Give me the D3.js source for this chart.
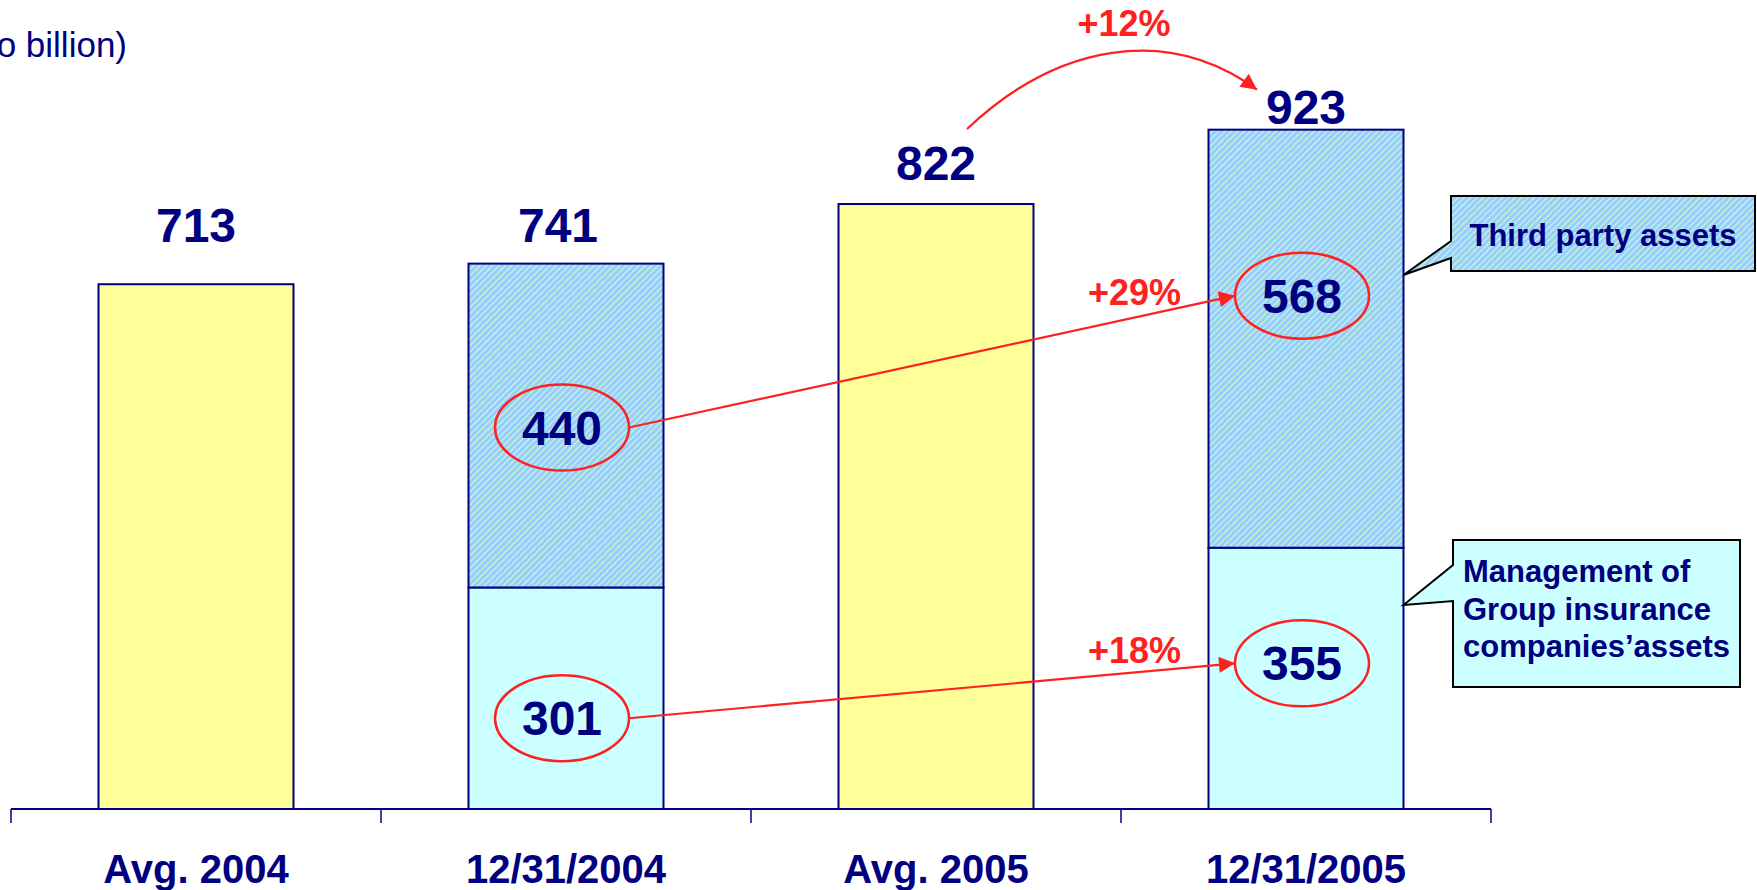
<!DOCTYPE html>
<html>
<head>
<meta charset="utf-8">
<script src="https://cdn.jsdelivr.net/npm/d3@7"></script>
<style>
  body { margin: 0; background: #fff; }
  svg { display: block; font-family: "Liberation Sans", Arial, sans-serif; }
</style>
</head>
<body>
<svg width="1757" height="890"></svg>
<script>
// chart data
const categories = ["Avg. 2004", "12/31/2004", "Avg. 2005", "12/31/2005"];
const totals = [713, 741, 822, 923];
const groupAssets = [null, 301, null, 355];   // Management of Group insurance companies' assets
const thirdParty = [null, 440, null, 568];    // Third party assets
const growthLabels = ["+12%", "+29%", "+18%"];
const unitLabel = "(Euro billion)";

// layout bits for the hand placed annotations
const totalLift = [42, 22, 24, 6];
const thirdShift = [0, 2, 0, -43];
const groupShift = [0, 20, 0, -15];

const navy = "#000080", red = "#FF2020";
const yellow = "#FFFF99", cyan = "#CCFFFF";

const svg = d3.select("svg");

// hatched fill for third party assets
const defs = svg.append("defs");
const pat = defs.append("pattern")
    .attr("id", "hatch")
    .attr("patternUnits", "userSpaceOnUse")
    .attr("width", 4.5).attr("height", 4.5)
    .attr("patternTransform", "rotate(45)");
pat.append("rect").attr("width", 4.5).attr("height", 4.5).attr("fill", "#99CCFF");
pat.append("line").attr("x1", 0).attr("y1", 0).attr("x2", 0).attr("y2", 4.5)
    .attr("stroke", "#CCFFCC").attr("stroke-width", 2.2);

let x = d3.scaleBand().domain(categories).range([11, 1491]).paddingInner(0.473).paddingOuter(0.2365);
let xOuter = d3.scaleBand().domain(categories).range([11, 1491]).padding(0);
let y = d3.scaleLinear().domain([0, 1000]).range([809, 73]);

const idx = d3.range(categories.length);
const isAvg = i => groupAssets[i] === null;

// yellow average bars
svg.selectAll(".avgBar")
    .data(idx.filter(isAvg))
    .enter().append("rect")
    .attr("class", "avgBar")
    .attr("x", i => x(categories[i]))
    .attr("width", x.bandwidth())
    .attr("y", i => y(totals[i]))
    .attr("height", i => y(0) - y(totals[i]))
    .attr("fill", yellow)
    .attr("stroke", navy)
    .attr("stroke-width", 2);

// stacked year end bars
const stacked = idx.filter(i => !isAvg(i));
svg.selectAll(".groupBar")
    .data(stacked)
    .enter().append("rect")
    .attr("class", "groupBar")
    .attr("x", i => x(categories[i]))
    .attr("width", x.bandwidth())
    .attr("y", i => y(groupAssets[i]))
    .attr("height", i => y(0) - y(groupAssets[i]))
    .attr("fill", cyan)
    .attr("stroke", navy)
    .attr("stroke-width", 2);

svg.selectAll(".thirdBar")
    .data(stacked)
    .enter().append("rect")
    .attr("class", "thirdBar")
    .attr("x", i => x(categories[i]))
    .attr("width", x.bandwidth())
    .attr("y", i => y(groupAssets[i] + thirdParty[i]))
    .attr("height", i => y(groupAssets[i]) - y(groupAssets[i] + thirdParty[i]))
    .attr("fill", "url(#hatch)")
    .attr("stroke", navy)
    .attr("stroke-width", 2);

// axis line with ticks between categories
svg.append("line")
    .attr("x1", xOuter.range()[0]).attr("x2", xOuter.range()[1])
    .attr("y1", y(0)).attr("y2", y(0))
    .attr("stroke", navy).attr("stroke-width", 2);
const tickXs = categories.map(c => xOuter(c)).concat([xOuter.range()[1]]);
svg.selectAll(".tick")
    .data(tickXs)
    .enter().append("line")
    .attr("x1", d => d).attr("x2", d => d)
    .attr("y1", y(0)).attr("y2", y(0) + 14)
    .attr("stroke", navy).attr("stroke-width", 1.5);

svg.selectAll(".catLabel")
    .data(categories)
    .enter().append("text")
    .attr("x", d => x(d) + x.bandwidth() / 2)
    .attr("y", y(0) + 74)
    .attr("text-anchor", "middle")
    .attr("font-size", 40).attr("font-weight", "bold")
    .attr("fill", navy)
    .text(d => d);

// totals above bars
svg.selectAll(".totLabel")
    .data(idx)
    .enter().append("text")
    .attr("x", i => x(categories[i]) + x.bandwidth() / 2 - (i === 1 ? 8 : 0))
    .attr("y", i => y(totals[i]) - totalLift[i])
    .attr("text-anchor", "middle")
    .attr("font-size", 48).attr("font-weight", "bold")
    .attr("fill", navy)
    .text(i => totals[i]);

// unit label, partly cut at the left edge as in the original slide
svg.append("text")
    .attr("x", 127).attr("y", 57)
    .attr("text-anchor", "end")
    .attr("font-size", 35)
    .attr("fill", navy)
    .text(unitLabel);

// circled segment values
const rx = 67, ry = 43;
let bubbles = [];
stacked.forEach(i => {
    const cx = x(categories[i]) + x.bandwidth() / 2 - 4;
    bubbles.push({i: i, kind: "third", cx: cx,
        cy: y(groupAssets[i] + thirdParty[i] / 2) + thirdShift[i], v: thirdParty[i]});
    bubbles.push({i: i, kind: "group", cx: cx,
        cy: y(groupAssets[i] / 2) + groupShift[i], v: groupAssets[i]});
});

const bub = svg.selectAll(".bubble").data(bubbles).enter().append("g");
bub.append("ellipse")
    .attr("cx", d => d.cx).attr("cy", d => d.cy)
    .attr("rx", rx).attr("ry", ry)
    .attr("fill", "none").attr("stroke", red).attr("stroke-width", 2.5);
bub.append("text")
    .attr("x", d => d.cx).attr("y", d => d.cy + 17)
    .attr("text-anchor", "middle")
    .attr("font-size", 48).attr("font-weight", "bold")
    .attr("fill", navy)
    .text(d => d.v);

// arrows
defs.append("marker")
    .attr("id", "arrow")
    .attr("viewBox", "0 0 10 10")
    .attr("refX", 10).attr("refY", 5)
    .attr("markerWidth", 22).attr("markerHeight", 16)
    .attr("markerUnits", "userSpaceOnUse")
    .attr("orient", "auto")
    .append("path").attr("d", "M0,0 L10,5 L0,10 Z").attr("fill", red);

const findB = (i, k) => bubbles.find(b => b.i === i && b.kind === k);
const labelDy = [9, 0];
["third", "group"].forEach((k, j) => {
    const a = findB(1, k), b = findB(3, k);
    svg.append("line")
        .attr("x1", a.cx + rx).attr("y1", a.cy)
        .attr("x2", b.cx - rx).attr("y2", b.cy)
        .attr("stroke", red).attr("stroke-width", 2.2)
        .attr("marker-end", "url(#arrow)");
    svg.append("text")
        .attr("x", b.cx - rx - 54).attr("y", b.cy + labelDy[j])
        .attr("text-anchor", "end")
        .attr("font-size", 36).attr("font-weight", "bold")
        .attr("fill", red)
        .text(growthLabels[j + 1]);
});

// curved arrow between the two 2005 totals
const x2 = x(categories[2]) + x.bandwidth() / 2, x3 = x(categories[3]) + x.bandwidth() / 2;
const sx = x2 + 31, sy = y(totals[2]) - 75;
const ex = x3 - 49, ey = y(totals[3]) - 40;
svg.append("path")
    .attr("d", `M${sx},${sy} C${sx + 90},${sy - 85} ${sx + 200},${sy - 105} ${ex},${ey}`)
    .attr("fill", "none").attr("stroke", red).attr("stroke-width", 2.2)
    .attr("marker-end", "url(#arrow)");
svg.append("text")
    .attr("x", (sx + ex) / 2 + 12).attr("y", 36)
    .attr("text-anchor", "middle")
    .attr("font-size", 36).attr("font-weight", "bold")
    .attr("fill", red)
    .text(growthLabels[0]);

// callouts
const tipX = x(categories[3]) + x.bandwidth();
svg.append("path")
    .attr("d", `M1451,196 H1755 V271 H1451 V258 L${tipX},275 L1451,241 Z`)
    .attr("fill", "url(#hatch)").attr("stroke", "#000").attr("stroke-width", 2);
svg.append("text")
    .attr("x", 1603).attr("y", 246)
    .attr("text-anchor", "middle")
    .attr("font-size", 31).attr("font-weight", "bold")
    .attr("fill", navy)
    .text("Third party assets");

svg.append("path")
    .attr("d", `M1453,540 H1740 V687 H1453 V601 L${tipX},605 L1453,565 Z`)
    .attr("fill", cyan).attr("stroke", "#000").attr("stroke-width", 2);
const mgmt = svg.append("text")
    .attr("font-size", 31).attr("font-weight", "bold")
    .attr("fill", navy);
["Management of", "Group insurance", "companies\u2019assets"].forEach((t, k) => {
    mgmt.append("tspan").attr("x", 1463).attr("y", 582 + k * 37.5).text(t);
});
</script>
</body>
</html>
